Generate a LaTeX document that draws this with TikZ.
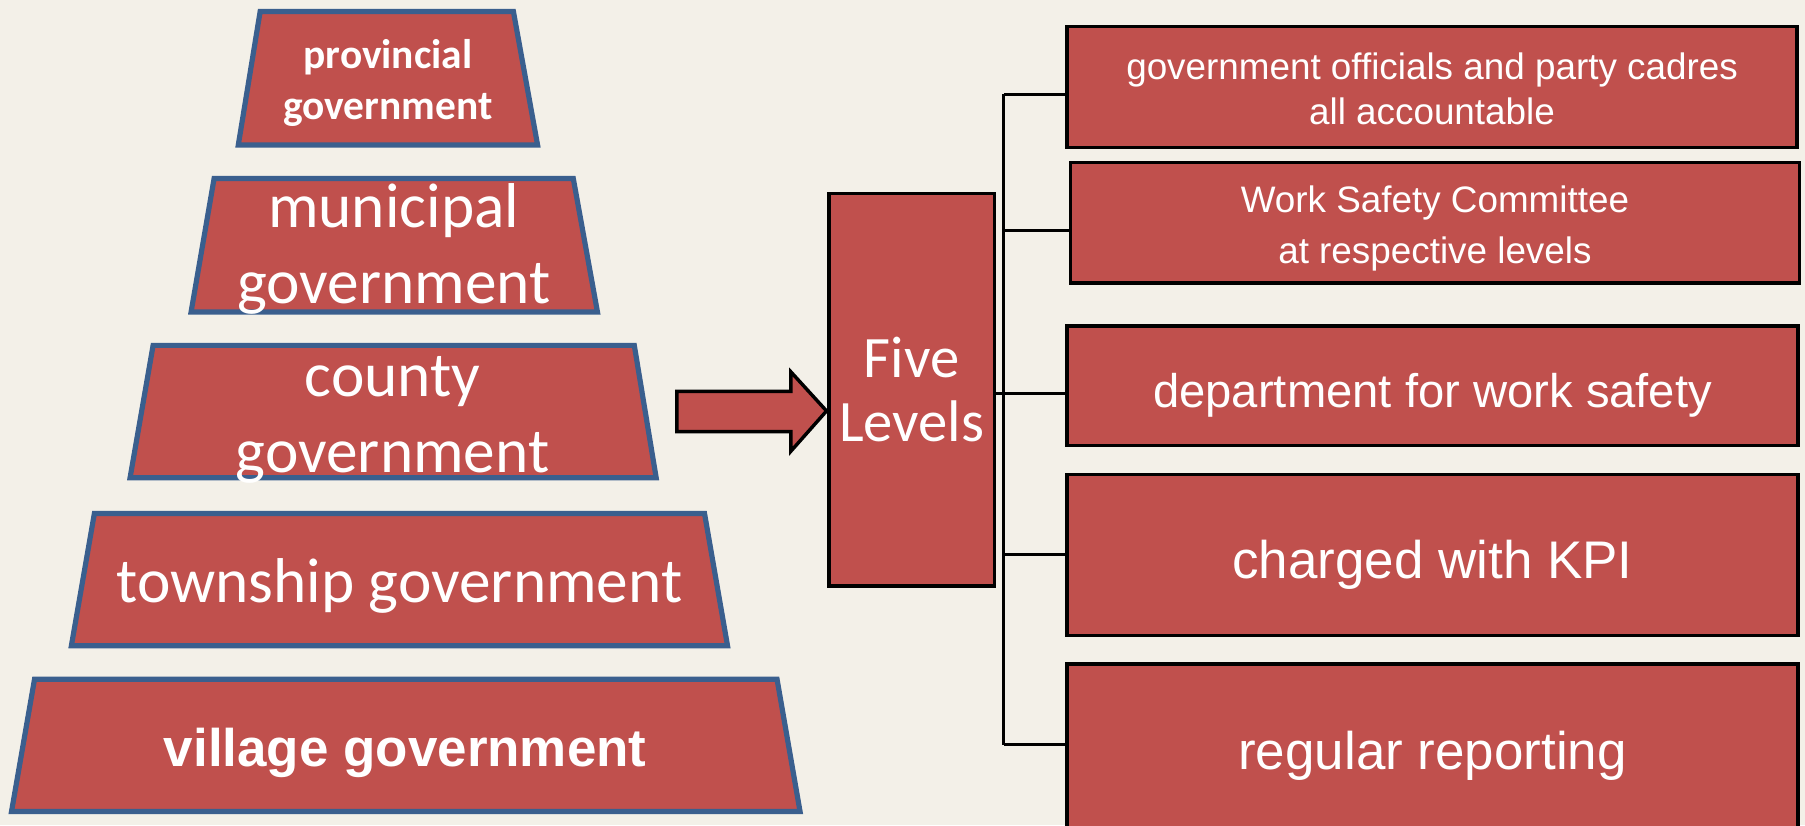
\documentclass[tikz,border=0pt]{standalone}
\usepackage{fontspec}
\setmainfont{Liberation Sans}
\newfontfamily\calfont{Carlito}
\usetikzlibrary{calc}
\definecolor{boxred}{HTML}{C0504D}
\definecolor{trapblue}{HTML}{3A5F8E}
\definecolor{bgcol}{HTML}{F3F0E8}
\newcommand{\lowerby}[2]{\raisebox{-#1}[\height][\depth]{#2}}
\begin{document}
\begin{tikzpicture}[x=1pt,y=-1pt,
  trap/.style={fill=boxred,draw=trapblue,line width=4.5pt,line join=miter},
  rbox/.style={fill=boxred,draw=black,line width=3pt,inner sep=0pt},
  conn/.style={draw=black,line width=2.5pt},
  ttext/.style={text=white,align=center,inner sep=0pt}]
\fill[bgcol] (0,0) rectangle (1568,717);
\useasboundingbox (0,0) rectangle (1568,717);
% pyramid
\draw[trap] (226,10) -- (446,10) -- (467,126) -- (207,126) -- cycle;
\draw[trap] (186,155) -- (498,155) -- (519,271) -- (166,271) -- cycle;
\draw[trap] (133,300) -- (551,300) -- (570,415) -- (113,415) -- cycle;
\draw[trap] (82,446) -- (612,446) -- (632,561) -- (62,561) -- cycle;
\draw[trap] (30,590) -- (675,590) -- (695,705) -- (10,705) -- cycle;
\node[ttext,font=\calfont\bfseries\fontsize{36}{45}\selectfont] (prov) at (337,72) {provincial\\government};
\node[ttext,font=\calfont\fontsize{55}{66}\selectfont] (muni) at (342,216) {municipal\\government};
\node[ttext,font=\calfont\fontsize{55}{66}\selectfont] (county) at (341,365) {county\\government};
\node[ttext,font=\calfont\fontsize{55}{66}\selectfont] (town) at (347,509) {township government};
\node[ttext,font=\bfseries\fontsize{46}{55}\selectfont] (vill) at (352,654) {village government};
% arrow
\draw[rbox] (588,340) -- (687,340) -- (687,323) -- (718,357) -- (687,392) -- (687,375) -- (588,375) -- cycle;
% five levels
\node[rbox,text=white,align=center,minimum width=144pt,minimum height=341pt,
  font=\calfont\fontsize{51}{56}\selectfont] (five) at (792,338.5) {Five\\Levels};
% right boxes
\node[rbox,text=white,minimum width=634pt,minimum height=105pt,
  font=\fontsize{32}{39}\selectfont] (r1) at (1244,75.5) {\lowerby{2pt}{\parbox{600pt}{\centering government officials and party cadres\\all accountable}}};
\node[rbox,text=white,minimum width=633pt,minimum height=105pt,
  font=\fontsize{32}{45}\selectfont] (r2) at (1246.5,193.5) {\lowerby{5pt}{\parbox{600pt}{\centering Work Safety Committee\\at respective levels}}};
\node[rbox,text=white,minimum width=635pt,minimum height=104pt,
  font=\fontsize{41}{48}\selectfont] (r3) at (1244.5,335) {\lowerby{8pt}{department for work safety}};
\node[rbox,text=white,minimum width=635pt,minimum height=140pt,
  font=\fontsize{46}{54}\selectfont] (r4) at (1244.5,482) {\lowerby{9pt}{charged with KPI}};
\node[rbox,text=white,minimum width=635pt,minimum height=153pt,
  font=\fontsize{46}{54}\selectfont] (r5) at (1244.5,653.5) {\lowerby{3pt}{regular reporting}};
% connectors
\coordinate (j1) at (872,82);
\coordinate (j2) at (872,200);
\coordinate (j3) at (872,342);
\coordinate (j4) at (872,482);
\coordinate (j5) at (872,647);
\draw[conn] (j1) -- (j5);
\draw[conn] (j1) -- (j1 -| r1.west);
\draw[conn] (j2) -- (j2 -| r2.west);
\draw[conn] (five.east |- j3) -- (j3 -| r3.west);
\draw[conn] (j4) -- (j4 -| r4.west);
\draw[conn] (j5) -- (j5 -| r5.west);
\end{tikzpicture}
\end{document}
